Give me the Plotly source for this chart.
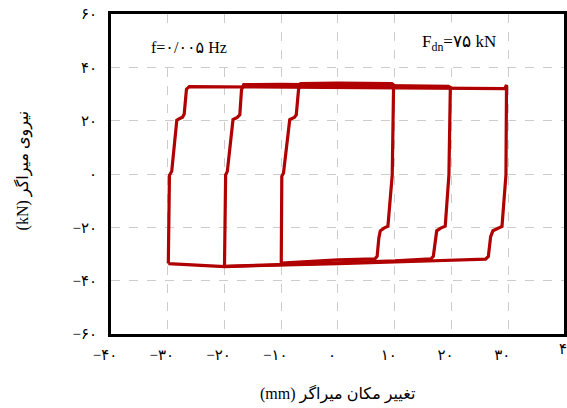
import plotly.graph_objects as go

# ---- data ----
loopA_x = [-29.9, -29.7, -29.3, -28.4, -27.8, -27.4, -27.1, -26.7, -26.2, -20, -10, 0, 10, 20, 29.4, 29.7,
           29.7, 29.6, 28.9, 28.1, 27.3, 26.9, 26.5, 26.0, 20, 10, 0, -10, -20, -29.9]
loopA_y = [-33.6, -0.5, 1.0, 20.2, 20.9, 21.3, 22.5, 31.8, 32.8, 32.7, 32.5, 32.3, 32.2, 32.1, 32.0, 33.4,
           1.0, -0.3, -19.7, -20.4, -21.3, -23.5, -30.9, -31.9, -32.4, -33.0, -33.6, -34.2, -34.7, -33.6]

loopB_x = [-20.0, -19.8, -19.5, -18.5, -17.75, -17.3, -17.0, -16.6, -10, 0, 10, 19.5, 19.8,
           19.66, 19.55, 18.9, 18.1, 17.4, 17.2, 16.8, 16.4, 10, 0, -10, -20.0]
loopB_y = [-34.6, -0.3, 1.0, 20.4, 21.2, 22.2, 31.6, 33.5, 33.6, 33.4, 33.2, 32.9, 32.4,
           1.0, -0.3, -19.6, -20.3, -21.3, -24.0, -30.9, -31.8, -32.6, -33.3, -34.0, -34.6]

loopC_x = [-10.0, -9.9, -9.6, -8.5, -7.7, -7.35, -6.95, -6.55, 0, 9.5, 9.8,
           9.7, 9.56, 8.8, 8.1, 7.46, 7.2, 6.9, 6.5, 0, -10.0]
loopC_y = [-33.9, -0.9, 0.4, 20.4, 21.2, 22.2, 31.6, 33.9, 34.1, 33.9, 33.4,
           1.0, -0.3, -19.6, -20.3, -21.3, -24.0, -30.9, -31.8, -32.2, -33.4]

x_tickvals = [-40, -30, -20, -10, 0, 10, 20, 30]
x_ticktext = ["−۴۰", "−۳۰", "−۲۰", "−۱۰", "۰", "۱۰", "۲۰", "۳۰"]
x_last_tick = 40
x_last_text = "۴۰"
y_tickvals = [-60, -40, -20, 0, 20, 40, 60]
y_ticktext = ["−۶۰", "−۴۰", "−۲۰", "۰", "۲۰", "۴۰", "۶۰"]

x_title = "(mm) تغییر مکان میراگر"
y_title = "(kN) نیروی میراگر"
freq_text = "f=۰/۰۰۵ Hz"
force_text = "F<sub>dn</sub>=۷۵ kN"

# ---- figure ----
RED = "#b00000"
SERIF = "Times New Roman, Liberation Serif, DejaVu Sans, serif"
X_MIN, X_MAX = -40, 39.83

fig = go.Figure()
for lx, ly in [(loopA_x, loopA_y), (loopB_x, loopB_y), (loopC_x, loopC_y)]:
    fig.add_trace(go.Scatter(x=lx, y=ly, mode="lines",
                             line=dict(color=RED, width=3.2), showlegend=False,
                             hoverinfo="skip"))

fig.update_layout(
    width=567, height=408,
    margin=dict(l=111, r=0, t=14, b=74),
    paper_bgcolor="white", plot_bgcolor="white",
    font=dict(family=SERIF, size=14, color="black"),
)
fig.update_xaxes(
    range=[X_MIN, X_MAX], tickvals=x_tickvals, ticktext=x_ticktext,
    showgrid=True, gridcolor="#cccccc", griddash="dash", gridwidth=1,
    zeroline=False, showline=True, linecolor="black", linewidth=2.5, mirror=True,
    ticks="", ticklabelstandoff=5, ticklabelshift=-6,
    tickfont=dict(family=SERIF, size=15),
)
fig.update_yaxes(
    range=[-60, 60], tickvals=y_tickvals, ticktext=y_ticktext,
    showgrid=True, gridcolor="#cccccc", griddash="dash", gridwidth=1,
    zeroline=False, showline=True, linecolor="black", linewidth=3, mirror=True,
    ticks="", ticklabelstandoff=8,
    tickfont=dict(family=SERIF, size=15),
)

# cut-off last x tick label (lies just beyond the right edge of the page)
fig.add_annotation(x=(x_last_tick - X_MIN) / (X_MAX - X_MIN), y=0, xref="paper", yref="paper",
                   text=x_last_text, showarrow=False, yanchor="top", xanchor="center",
                   yshift=-5, xshift=2, font=dict(family=SERIF, size=15))
# axis titles
fig.add_annotation(x=0.5, y=-60 / 320, xref="paper", yref="paper", text=x_title,
                   showarrow=False, yanchor="middle", xanchor="center",
                   font=dict(family=SERIF, size=16))
fig.add_annotation(x=-89 / 456, y=0.51, xref="paper", yref="paper", text=y_title,
                   showarrow=False, textangle=-90, xanchor="center", yanchor="middle",
                   font=dict(family=SERIF, size=16))
# in-plot labels
fig.add_annotation(x=-26.2, y=47.5, xref="x", yref="y", text=freq_text, showarrow=False,
                   bgcolor="white", borderpad=10, font=dict(family=SERIF, size=16))
fig.add_annotation(x=21.4, y=49.0, xref="x", yref="y", text=force_text, showarrow=False,
                   bgcolor="white", borderpad=9, font=dict(family=SERIF, size=17))

fig.write_html("out.html", config={"displayModeBar": False})
